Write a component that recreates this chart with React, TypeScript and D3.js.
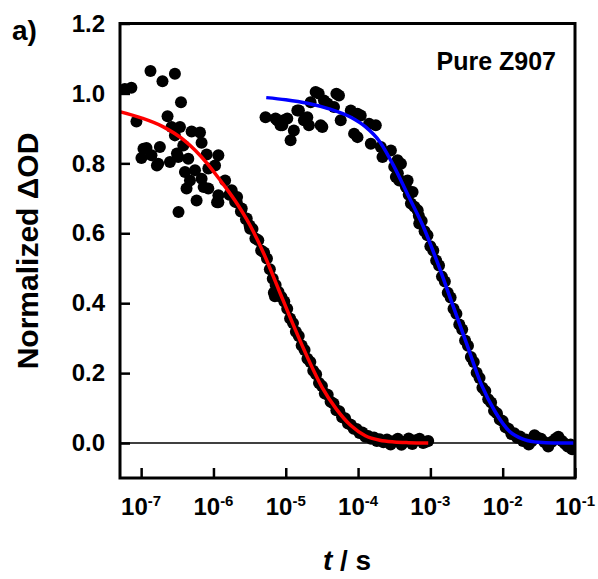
import { useEffect, useRef } from 'react';
import * as d3 from 'd3';

const xTickExps = [-7, -6, -5, -4, -3, -2, -1];
const yTicks = [0, 0.2, 0.4, 0.6, 0.8, 1.0, 1.2];

// [log10(t / s), normalized dOD]
const fastData: [number, number][] = [
  [-7.226, 1.013], [-7.135, 1.016], [-6.871, 1.064], [-6.705, 1.035], [-6.533, 1.056],
  [-6.449, 0.975], [-7.065, 0.92], [-6.635, 0.935], [-6.58, 0.904], [-6.463, 0.904],
  [-6.302, 0.891], [-6.186, 0.888], [-6.533, 0.88], [-6.164, 0.859], [-6.417, 0.851],
  [-6.926, 0.844], [-6.741, 0.847], [-6.996, 0.815], [-6.857, 0.823], [-6.764, 0.799],
  [-6.602, 0.804], [-6.487, 0.818], [-6.348, 0.813], [-6.094, 0.825], [-5.932, 0.823],
  [-6.394, 0.775], [-6.255, 0.78], [-6.164, 0.756], [-6.325, 0.751], [-6.372, 0.728],
  [-6.071, 0.785], [-5.978, 0.794], [-6.071, 0.728], [-6.233, 0.694], [-6.483, 0.661],
  [-5.839, 0.751], [-5.932, 0.709], [-5.932, 0.689], [-5.748, 0.723], [-5.678, 0.689],
  [-5.609, 0.671], [-5.54, 0.642], [-5.492, 0.613], [-6.782, 0.794], [-6.136, 0.732],
  [-5.95, 0.689], [-5.673, 0.704], [-6.968, 0.842], [-6.505, 0.828],
  [-5.78, 0.71], [-5.7, 0.69], [-5.62, 0.662], [-5.55, 0.64], [-5.5, 0.622],
  [-5.46, 0.612], [-5.42, 0.585], [-5.38, 0.58], [-5.34, 0.551], [-5.3, 0.545],
  [-5.26, 0.528], [-5.22, 0.497], [-5.18, 0.47], [-5.165, 0.43], [-5.15, 0.42],
  [-5.14, 0.452], [-5.1, 0.432], [-5.06, 0.418], [-5.02, 0.405], [-4.98, 0.384],
  [-4.94, 0.356], [-4.9, 0.343], [-4.86, 0.318], [-4.82, 0.306], [-4.78, 0.279],
  [-4.74, 0.266], [-4.7, 0.241], [-4.66, 0.232], [-4.62, 0.207], [-4.58, 0.197],
  [-4.54, 0.172], [-4.5, 0.163], [-4.46, 0.142], [-4.42, 0.138], [-4.38, 0.118],
  [-4.34, 0.113], [-4.3, 0.094], [-4.26, 0.091], [-4.22, 0.074], [-4.18, 0.071],
  [-4.14, 0.056], [-4.1, 0.052], [-4.06, 0.041], [-4.02, 0.04], [-3.98, 0.029],
  [-3.94, 0.03], [-3.9, 0.018], [-3.86, 0.02], [-3.82, 0.012], [-3.78, 0.016],
  [-3.74, 0.006], [-3.7, 0.011], [-3.65, 0.002], [-3.6, 0.01], [-3.55, -0.004],
  [-3.5, 0.006], [-3.45, 0.012], [-3.4, -0.005], [-3.35, 0.004], [-3.3, 0.013],
  [-3.25, -0.003], [-3.2, 0.008], [-3.15, 0.012], [-3.1, 0.0], [-3.06, 0.004],
  [-3.03, 0.006],
];

const slowData: [number, number][] = [
  [-5.28, 0.932], [-5.141, 0.928], [-5.026, 0.923], [-5.072, 0.909], [-4.888, 0.894],
  [-4.933, 0.866], [-4.818, 0.951], [-4.749, 0.923], [-4.68, 0.909], [-4.587, 1.004],
  [-4.656, 0.975], [-4.494, 0.904], [-4.424, 0.971], [-4.264, 0.994], [-4.333, 0.961],
  [-4.24, 0.923], [-4.101, 0.951], [-4.008, 0.875], [-3.963, 0.937], [-3.848, 0.913],
  [-3.824, 0.856], [-3.755, 0.909], [-3.685, 0.847], [-3.662, 0.818], [-3.546, 0.837],
  [-3.454, 0.809], [-3.431, 0.751], [-3.338, 0.732], [-3.269, 0.685], [-3.176, 0.666],
  [-3.154, 0.628], [-4.472, 0.98], [-4.702, 0.932], [-4.517, 0.909], [-4.008, 0.942],
  [-4.055, 0.885], [-3.407, 0.799], [-3.477, 0.761], [-3.315, 0.751], [-3.246, 0.718],
  [-5.118, 0.923], [-4.979, 0.928], [-5.049, 0.909], [-4.84, 0.951], [-4.545, 1.0],
  [-4.3, 0.999],
  [-3.5, 0.79], [-3.45, 0.772], [-3.38, 0.748], [-3.3, 0.71], [-3.22, 0.676], [-3.16, 0.65],
  [-3.12, 0.635], [-3.08, 0.606], [-3.04, 0.594], [-3.0, 0.563], [-2.96, 0.551],
  [-2.92, 0.522], [-2.88, 0.508], [-2.84, 0.476], [-2.8, 0.462], [-2.76, 0.43],
  [-2.72, 0.416], [-2.68, 0.384], [-2.64, 0.37], [-2.6, 0.339], [-2.56, 0.325],
  [-2.52, 0.293], [-2.48, 0.278], [-2.44, 0.246], [-2.4, 0.232], [-2.36, 0.201],
  [-2.32, 0.186], [-2.28, 0.158], [-2.24, 0.149], [-2.2, 0.125], [-2.16, 0.116],
  [-2.12, 0.092], [-2.08, 0.085], [-2.04, 0.067], [-2.0, 0.063], [-1.96, 0.045],
  [-1.92, 0.041], [-1.88, 0.026], [-1.84, 0.028], [-1.8, 0.015], [-1.76, 0.019],
  [-1.72, 0.006], [-1.68, 0.01], [-1.64, -0.004], [-1.6, 0.005], [-1.56, 0.022],
  [-1.52, 0.016], [-1.47, 0.012], [-1.42, 0.002], [-1.37, -0.01], [-1.32, 0.004],
  [-1.27, 0.012], [-1.23, 0.018], [-1.18, 0.006], [-1.14, -0.002], [-1.1, -0.01],
  [-1.06, -0.004], [-1.04, -0.018],
];

const fastFit: [number, number][] = [
  [-7.3, 0.948], [-7.0, 0.93], [-6.7, 0.905], [-6.4, 0.865], [-6.1, 0.803],
  [-5.9, 0.75], [-5.7, 0.693], [-5.5, 0.625], [-5.3, 0.54], [-5.1, 0.44],
  [-4.9, 0.34], [-4.7, 0.245], [-4.5, 0.16], [-4.3, 0.097], [-4.1, 0.05],
  [-3.9, 0.021], [-3.7, 0.008], [-3.5, 0.003], [-3.3, 0.001], [-3.03, 0.0],
];

const slowFit: [number, number][] = [
  [-5.27, 0.988], [-5.0, 0.982], [-4.7, 0.972], [-4.4, 0.956], [-4.1, 0.932],
  [-3.9, 0.905], [-3.7, 0.862], [-3.5, 0.79], [-3.3, 0.705], [-3.1, 0.62],
  [-2.9, 0.515], [-2.7, 0.4], [-2.5, 0.285], [-2.3, 0.17], [-2.1, 0.088],
  [-1.9, 0.032], [-1.7, 0.01], [-1.5, 0.002], [-1.3, 0.0], [-1.02, 0.0],
];

export default function App() {
  const svgRef = useRef<SVGSVGElement>(null);

  useEffect(() => {
    const svg = d3.select(svgRef.current);
    svg.selectAll('*').remove();

    const font = '"Liberation Sans", Arial, sans-serif';
    const left = 120, right = 575, top = 23.5, bottom = 478;

    const x = d3.scaleLog().domain([5.1e-8, 0.1]).range([left, right]);
    const y = d3.scaleLinear().domain([-0.1, 1.2]).range([bottom, top]);
    const px = (d: [number, number]) => x(Math.pow(10, d[0]));
    const py = (d: [number, number]) => y(d[1]);

    svg.append('defs').append('clipPath').attr('id', 'plot-clip')
      .append('rect')
      .attr('x', left).attr('y', top)
      .attr('width', right - left).attr('height', bottom - top);

    const plot = svg.append('g').attr('clip-path', 'url(#plot-clip)');

    // zero line
    plot.append('line')
      .attr('x1', left).attr('x2', right)
      .attr('y1', y(0)).attr('y2', y(0))
      .attr('stroke', '#000').attr('stroke-width', 1.5);

    [fastData, slowData].forEach(ds => {
      plot.append('g').selectAll('circle')
        .data(ds)
        .join('circle')
        .attr('cx', px)
        .attr('cy', py)
        .attr('r', 6)
        .attr('fill', '#000');
    });

    const line = d3.line<[number, number]>().x(px).y(py).curve(d3.curveMonotoneX);

    plot.append('path').datum(fastFit)
      .attr('d', line)
      .attr('fill', 'none').attr('stroke', '#ff0000').attr('stroke-width', 3.5);

    plot.append('path').datum(slowFit)
      .attr('d', line)
      .attr('fill', 'none').attr('stroke', '#0000ff').attr('stroke-width', 3.5);

    // axes, inward ticks
    const yAxis = svg.append('g')
      .attr('transform', `translate(${left},0)`)
      .call(d3.axisLeft(y).tickValues(yTicks).tickSize(-10).tickPadding(15).tickFormat(d3.format('.1f')));
    yAxis.select('.domain').remove();
    yAxis.selectAll('line').attr('stroke-width', 2.5);
    yAxis.selectAll('text')
      .style('font-family', font).style('font-weight', 'bold').style('font-size', '24px')
      .attr('fill', '#000');

    const xAxis = svg.append('g')
      .attr('transform', `translate(0,${bottom})`)
      .call(d3.axisBottom(x).tickValues(xTickExps.map(e => Math.pow(10, e))).tickSize(-10).tickFormat(() => ''));
    xAxis.select('.domain').remove();
    xAxis.selectAll('line').attr('stroke-width', 2.5);

    xTickExps.forEach(e => {
      const t = svg.append('text')
        .attr('x', x(Math.pow(10, e)))
        .attr('y', 515)
        .attr('text-anchor', 'middle')
        .style('font-family', font).style('font-weight', 'bold').style('font-size', '24px');
      t.append('tspan').text('10');
      t.append('tspan').attr('dy', -9).style('font-size', '15px').text(String(e));
    });

    // frame
    svg.append('rect')
      .attr('x', left).attr('y', top)
      .attr('width', right - left).attr('height', bottom - top)
      .attr('fill', 'none').attr('stroke', '#000').attr('stroke-width', 3);

    svg.append('text')
      .attr('transform', `translate(38,251) rotate(-90)`)
      .attr('text-anchor', 'middle')
      .style('font-family', font).style('font-weight', 'bold').style('font-size', '30px')
      .text('Normalized \u0394OD');

    const xt = svg.append('text')
      .attr('x', 347).attr('y', 570)
      .attr('text-anchor', 'middle')
      .style('font-family', font).style('font-weight', 'bold').style('font-size', '28px');
    xt.append('tspan').style('font-style', 'italic').text('t');
    xt.append('tspan').text(' / s');

    svg.append('text')
      .attr('x', 12).attr('y', 40)
      .style('font-family', font).style('font-weight', 'bold').style('font-size', '28px')
      .text('a)');

    svg.append('text')
      .attr('x', 556).attr('y', 70)
      .attr('text-anchor', 'end')
      .style('font-family', font).style('font-weight', 'bold').style('font-size', '25px')
      .text('Pure Z907');
  }, []);

  return (
    <svg
      ref={svgRef}
      width={598}
      height={579}
      style={{ position: 'absolute', left: 0, top: 0, background: '#fff' }}
    />
  );
}
